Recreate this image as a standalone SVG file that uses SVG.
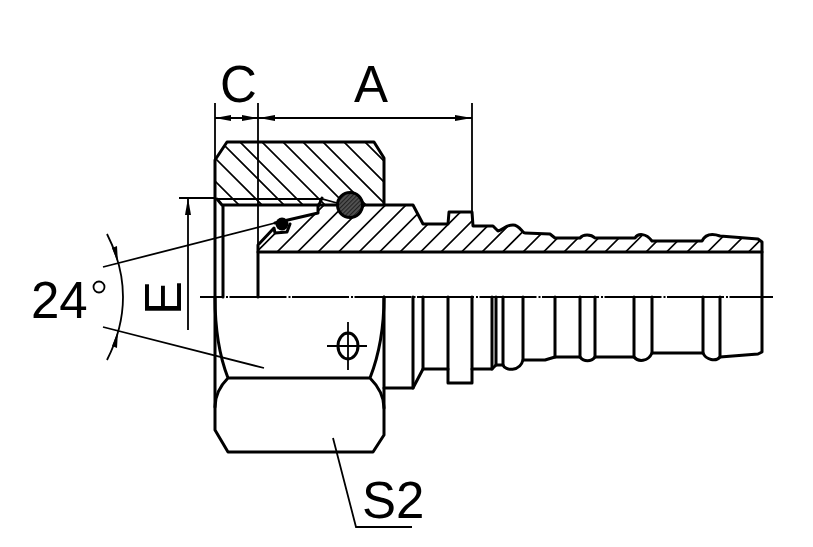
<svg xmlns="http://www.w3.org/2000/svg" width="813" height="547" viewBox="0 0 813 547">
<style>
.k{fill:none;stroke:#000;stroke-width:3;stroke-linejoin:round;stroke-linecap:round}
.t{fill:none;stroke:#000;stroke-width:1.8}
.h{fill:none;stroke:#000;stroke-width:1.7}
.a{fill:#000;stroke:none}
text{font-family:"Liberation Sans",Arial,sans-serif;font-size:51px;fill:#000}
</style>
<defs>
<clipPath id="nutClip"><path d="M215 160L227 142H374L384 158V205H320L322 199H320V205H222L215 199Z"/></clipPath>
<clipPath id="bodyClip"><path d="M258 252V245L274 228L275 233L287 232L290 224L318 213V207L320 205H413L423 224H448L449 212H472L473 226H493L498 231C503 230 505 225 513 225C520 225 522 233 525 233L550 234L555 238H580C583 234 591 234 595 238H635C638 233 646 233 652 241H702C706 233 714 234 720 236L758 239L762 242V252Z"/></clipPath>
<pattern id="ringFill" width="3" height="3" patternUnits="userSpaceOnUse" patternTransform="rotate(45)"><rect width="3" height="3" fill="#555"/><rect width="1.2" height="3" fill="#222"/></pattern>
</defs>
<g id="nut-section">
<g clip-path="url(#nutClip)">
<path class="h" d="M215 181L285 251M215 158L285 228M215 136L300 221M215 117L315 217M215 95L335 215M215 74L355 214M215 54L375 214M215 34L395 214M215 13L395 193M215 -8L395 172"/>
</g>
<path class="k" d="M215 297V160L227 142H374L384 158V205"/>
<path class="t" d="M215 199H322L337 203"/>
<path class="k" d="M217 199L222 205H318M223 205V297M322 198L318 207V213L275 223"/>
</g>
<g id="fitting-section">
<g clip-path="url(#bodyClip)">
<path class="h" d="M256.500 252L306.500 202M277 252L327 202M297.500 252L347.500 202M318 252L368 202M338.500 252L388.500 202M359 252L409 202M379.500 252L429.500 202M400 252L450 202M420.500 252L470.500 202M441 252L491 202M461.500 252L511.500 202M482 252L532 202M502.500 252L552.500 202M523 252L573 202M543.500 252L593.500 202M564 252L614 202M584.500 252L634.500 202M605 252L655 202M625.500 252L675.500 202M646 252L696 202M666.500 252L716.500 202M687 252L737 202M707.500 252L757.500 202M728 252L778 202M748.500 252L798.500 202"/>
</g>
<path class="k" d="M258 297V245L274 228L275 233L287 232L290 224M318 205H413L423 224H448L449 212H472L473 226H493L498 231C503 230 505 225 513 225C520 225 522 233 525 233L550 234L555 238H580C583 234 591 234 595 238H635C638 233 646 233 652 241H702C706 233 714 234 720 236L758 239L762 242V297"/>
<path class="k" d="M258 252H762"/>
</g>
<g id="seals">
<circle cx="350" cy="205" r="12.500" fill="url(#ringFill)" stroke="#000" stroke-width="3"/>
<circle cx="282" cy="224" r="6.500" fill="#000"/>
</g>
<g id="nut-outside">
<path class="k" d="M215 297V430L228 452H373L384 435V297"/>
<path class="k" d="M228 378H370M228 378C220 386 215 395 215 407M370 378C378 386 384 396 384 408M215 297C215 325 219 355 228 378M384 297C384 325 379 355 370 378"/>
<ellipse cx="348" cy="346" rx="10" ry="13" fill="none" stroke="#000" stroke-width="3"/>
<path class="t" d="M327 346H367M348 322V370"/>
</g>
<g id="fitting-outside">
<path class="k" d="M384 388H413L423 369H448V383H472V369H492L496 365H503C505 371 520 372 523 360H545L555 357H580C584 362 591 362 595 357H634C638 362 648 362 652 353H703C706 360 716 362 720 357L758 354L762 352V297"/>
<path class="k" d="M413 297V388M423 297V369M448 297V369M472 297V369M492 297V369M496 297V365M503 297V365M523 297V360M555 297V357M580 297V357M595 297V357M634 297V357M652 297V353M703 297V353M720 297V357"/>
</g>
<g id="connectors">
<path fill="none" stroke="#fff" stroke-width="5" stroke-dasharray="0 58 5.500 0" stroke-dashoffset="33" d="M200 296.500H773"/>
<path class="t" stroke-dasharray="57 2 2 1.500" stroke-dashoffset="33" d="M200 297H773"/>
<path class="t" d="M215 103V160M258 103V297M472 103V212M215 118H472"/>
<path class="a" d="M215 118L231 115V121ZM258 118L242 115V121ZM259 118L275 115V121ZM472 118L455 115V121Z"/>
<path class="t" d="M179 198H215M188 199V330"/>
<path class="a" d="M188 198L185 215H191Z"/>
<path class="t" d="M107 234Q139 297 107 360M103 267L275 223M103 327L264 368"/>
<path class="a" d="M118 263L112 248L117 246ZM118 331L112 346L117 348Z"/>
<path class="t" d="M333 438L356 527H412"/>
</g>
<g id="labels">
<text x="220" y="102">C</text>
<text x="354" y="102">A</text>
<text x="31" y="318">24</text>
<circle cx="99" cy="287" r="5.500" fill="none" stroke="#000" stroke-width="1.800"/>
<text transform="translate(181 315) rotate(-90)">E</text>
<text x="362" y="518">S2</text>
</g>
</svg>
